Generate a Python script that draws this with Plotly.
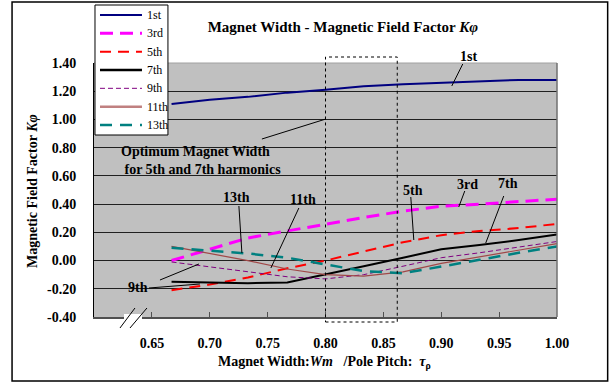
import plotly.graph_objects as go

# ---------------- data ----------------
x_ratio = [0.667, 0.700, 0.733, 0.767, 0.800, 0.833, 0.867, 0.900, 0.933, 0.967, 1.000]
k_1st  = [1.11, 1.14, 1.16, 1.19, 1.21, 1.235, 1.25, 1.26, 1.27, 1.28, 1.28]
k_3rd  = [0.00, 0.08, 0.16, 0.21, 0.26, 0.305, 0.35, 0.385, 0.40, 0.42, 0.435]
k_5th  = [-0.21, -0.17, -0.12, -0.055, 0.00, 0.065, 0.13, 0.18, 0.21, 0.23, 0.26]
k_7th  = [-0.15, -0.155, -0.16, -0.155, -0.10, -0.04, 0.02, 0.08, 0.11, 0.145, 0.185]
k_9th  = [-0.01, -0.045, -0.08, -0.115, -0.13, -0.10, -0.04, 0.02, 0.055, 0.095, 0.135]
k_11th = [0.10, 0.05, 0.00, -0.06, -0.10, -0.11, -0.08, -0.02, 0.025, 0.07, 0.12]
k_13th = [0.09, 0.07, 0.05, 0.02, -0.03, -0.075, -0.09, -0.045, 0.005, 0.055, 0.10]

series_names = ["1st", "3rd", "5th", "7th", "9th", "11th", "13th"]
series_vals = [k_1st, k_3rd, k_5th, k_7th, k_9th, k_11th, k_13th]

x_ticks = [0.65, 0.70, 0.75, 0.80, 0.85, 0.90, 0.95, 1.00]
y_ticks = [-0.40, -0.20, 0.00, 0.20, 0.40, 0.60, 0.80, 1.00, 1.20, 1.40]

optimum_range = [0.80, 0.862]

# ---------------- styles ----------------
styles = [
    dict(color="#000080", width=2, dash="solid"),
    dict(color="#FF00FF", width=3, dash="13px,7px"),
    dict(color="#FF0000", width=2, dash="11px,7px"),
    dict(color="#000000", width=2, dash="solid"),
    dict(color="#800080", width=1, dash="5px,3px"),
    dict(color="#A04848", width=1.2, dash="solid"),
    dict(color="#008080", width=2.5, dash="12px,8px"),
]
legend_line_widths = [2, 3, 2, 2.5, 1, 2.5, 2.5]
legend_colors = ["#000080", "#FF00FF", "#FF0000", "#000000", "#800080", "#C08080", "#008080"]

W, H = 612, 385
L, R, T, B = 94, 557.3, 63, 317
PW, PH = R - L, B - T
SERIF = "Liberation Serif, Times New Roman, serif"


def px(xp):
    return (xp - L) / PW


def py(yp):
    return (B - yp) / PH


fig = go.Figure()
for name, vals, st in zip(series_names, series_vals, styles):
    fig.add_trace(go.Scatter(x=x_ratio, y=vals, mode="lines", name=name, showlegend=False,
                             line=dict(color=st["color"], width=st["width"], dash=st["dash"])))

shapes = []
annots = []
# outer frame
shapes.append(dict(type="rect", xref="paper", yref="paper", x0=px(12), x1=px(608), y0=py(2), y1=py(381),
                   line=dict(color="#000000", width=1.5), layer="below"))
# plot top / right border
shapes.append(dict(type="line", xref="paper", yref="paper", x0=0, x1=1, y0=1, y1=1,
                   line=dict(color="#A0A0A0", width=1)))
shapes.append(dict(type="line", xref="paper", yref="paper", x0=1, x1=1, y0=0, y1=1,
                   line=dict(color="#707070", width=1.5)))
# optimum dashed box
shapes.append(dict(type="rect", xref="paper", yref="paper",
                   x0=(optimum_range[0] - 0.6) / 0.4, x1=(optimum_range[1] - 0.6) / 0.4,
                   y0=py(322), y1=py(57),
                   line=dict(color="#000000", width=1, dash="3px,3px")))
# axis break
shapes.append(dict(type="rect", xref="paper", yref="paper", x0=px(124), x1=px(142), y0=py(320), y1=py(314),
                   line=dict(width=0), fillcolor="#FFFFFF"))
for (a, b, c, d) in [(120, 328, 135, 308), (130, 328, 147, 308)]:
    shapes.append(dict(type="line", xref="paper", yref="paper", x0=px(a), y0=py(b), x1=px(c), y1=py(d),
                       line=dict(color="#000000", width=1)))
# leader lines
leaders = [
    (463, 64, 452, 86),     # 1st
    (262, 139, 326, 119),   # optimum
    (239, 206, 242, 253),   # 13th
    (299, 208, 271, 268),   # 11th
    (465, 191, 459, 207),   # 3rd
    (411, 197, 414, 240),   # 5th
    (504, 196, 486, 243),   # 7th
    (160, 280, 199, 264),   # 9th
    (149, 288, 200, 284),   # 9th
]
for (a, b, c, d) in leaders:
    shapes.append(dict(type="line", xref="paper", yref="paper", x0=px(a), y0=py(b), x1=px(c), y1=py(d),
                       line=dict(color="#000000", width=1)))

# legend box (drawn to match the reference's box)
shapes.append(dict(type="rect", xref="paper", yref="paper", x0=px(95), x1=px(168), y0=py(135), y1=py(5),
                   line=dict(color="#000000", width=1), fillcolor="#FFFFFF"))
for i, (name, st) in enumerate(zip(series_names, styles)):
    yy = 15 + i * 18.33
    shapes.append(dict(type="line", xref="paper", yref="paper", x0=px(100), x1=px(142), y0=py(yy), y1=py(yy),
                       line=dict(color=legend_colors[i], width=legend_line_widths[i], dash=st["dash"])))
    annots.append(dict(text=name, xref="paper", yref="paper", x=px(145), y=py(yy), showarrow=False,
                       xanchor="left", yanchor="middle",
                       font=dict(family=SERIF, size=12, color="#000000")))

labels = [("1st", 469, 56), ("13th", 237, 197), ("11th", 303, 200), ("3rd", 468, 184),
          ("5th", 413, 190), ("7th", 508, 183), ("9th", 138, 287)]
for t, a, b in labels:
    annots.append(dict(text=t, xref="paper", yref="paper", x=px(a), y=py(b), showarrow=False,
                       xanchor="center", yanchor="middle",
                       font=dict(family=SERIF, size=14, color="#000000", weight="bold")))
annots.append(dict(text="Optimum Magnet Width<br>\u00a0for 5th and 7th harmonics", xref="paper", yref="paper",
                   x=px(119), y=py(160), showarrow=False, xanchor="left", yanchor="middle", align="left",
                   font=dict(family=SERIF, size=14, color="#000000", weight="bold")))
# axis titles
annots.append(dict(text="Magnetic Field Factor <i>K\u03c6</i>", xref="paper", yref="paper",
                   x=px(32), y=py(191), showarrow=False, textangle=-90, xanchor="center", yanchor="middle",
                   font=dict(family=SERIF, size=14, color="#000000", weight="bold")))
annots.append(dict(text="Magnet Width:<i>Wm</i>\u00a0\u00a0\u00a0/Pole Pitch:\u00a0\u00a0<i>\u03c4</i><sub>\u03c1</sub>",
                   xref="paper", yref="paper",
                   x=px(325), y=py(362), showarrow=False, xanchor="center", yanchor="middle",
                   font=dict(family=SERIF, size=14, color="#000000", weight="bold")))

fig.update_layout(
    width=W, height=H,
    margin=dict(l=L, r=W - R, t=T, b=H - B, pad=0),
    paper_bgcolor="#FFFFFF",
    plot_bgcolor="#C0C0C0",
    title=dict(text="Magnet Width - Magnetic Field Factor <i>K\u03c6</i>", x=px(343), xref="paper", xanchor="center",
               y=1 - 27 / H, yref="container", yanchor="middle",
               font=dict(family=SERIF, size=15, color="#000000", weight="bold")),
    showlegend=False,
    shapes=shapes,
    annotations=annots,
)
fig.update_xaxes(range=[0.6, 1.0], tickvals=x_ticks, ticktext=[f"{v:.2f}" for v in x_ticks],
                 showgrid=False, zeroline=False, showline=True, linecolor="#505050", linewidth=2,
                 ticks="inside", ticklen=5, tickcolor="#505050", ticklabelstandoff=12,
                 tickfont=dict(family=SERIF, size=14, color="#000000", weight="bold"))
fig.update_yaxes(range=[-0.4, 1.4], tickvals=y_ticks, ticktext=[f"{v:.2f}" for v in y_ticks],
                 showgrid=True, gridcolor="#202020", gridwidth=1, zeroline=False,
                 showline=True, linecolor="#000000", linewidth=1, ticks="", ticklabelstandoff=14,
                 tickfont=dict(family=SERIF, size=14, color="#000000", weight="bold"))

fig.write_html("out.html")
